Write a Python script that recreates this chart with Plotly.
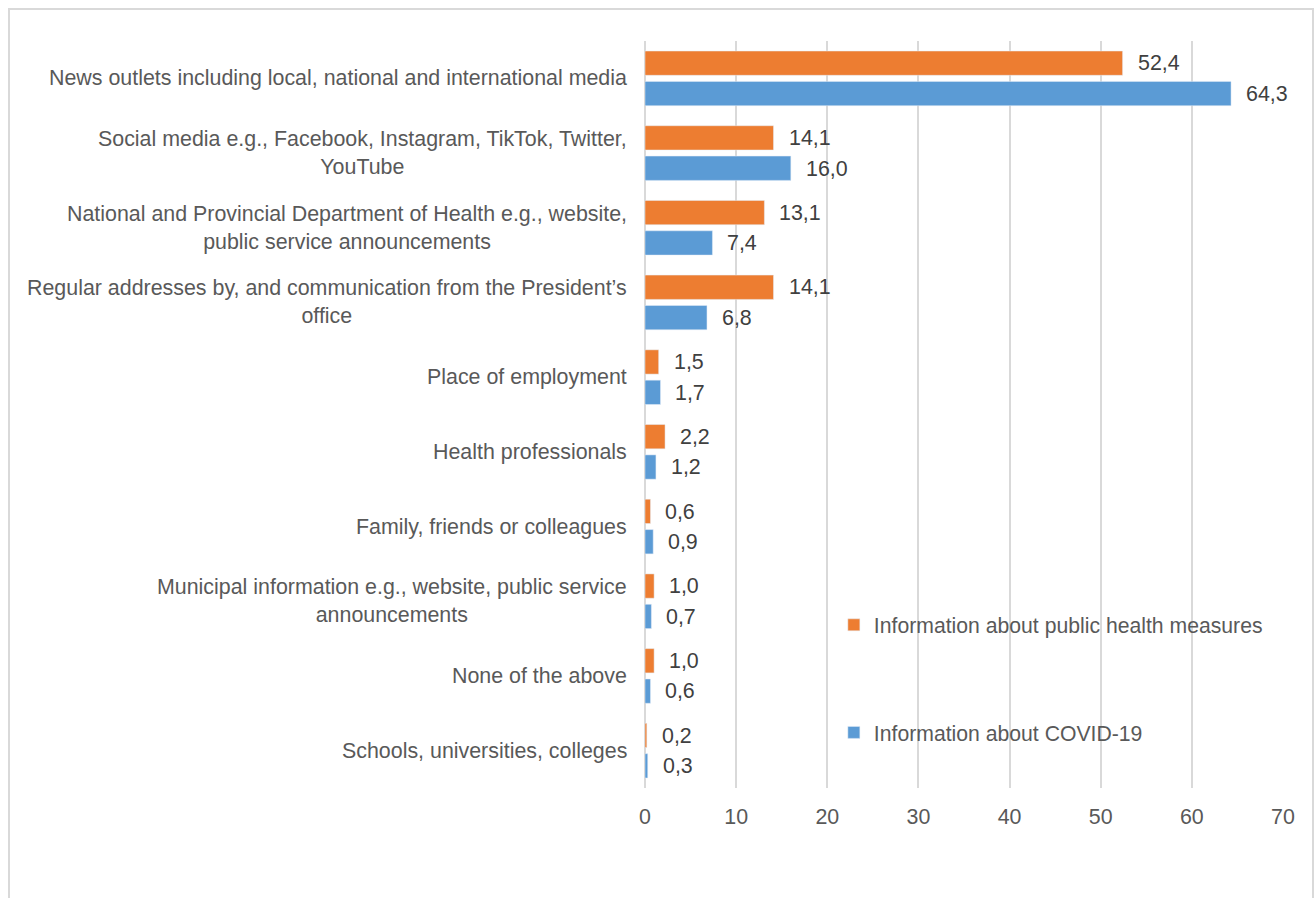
import plotly.graph_objects as go

# Information sources (top to bottom)
categories = [
    "News outlets including local, national and international media",
    "Social media e.g., Facebook, Instagram, TikTok, Twitter,<br>YouTube",
    "National and Provincial Department of Health e.g., website,<br>public service announcements",
    "Regular addresses by, and communication from the President\u2019s<br>office",
    "Place of employment",
    "Health professionals",
    "Family, friends or colleagues",
    "Municipal information e.g., website, public service<br>announcements",
    "None of the above",
    "Schools, universities, colleges",
]
public_health = [52.4, 14.1, 13.1, 14.1, 1.5, 2.2, 0.6, 1.0, 1.0, 0.2]
covid_info = [64.3, 16.0, 7.4, 6.8, 1.7, 1.2, 0.9, 0.7, 0.6, 0.3]
x_ticks = [0, 10, 20, 30, 40, 50, 60, 70]

ORANGE = "#ED7D31"
BLUE = "#5B9BD5"
FONT = "Arial, Liberation Sans, sans-serif"
FS = 21.4

fig = go.Figure()
fig.add_trace(go.Bar(
    y=categories, x=public_health, orientation="h",
    name="Information about public health measures",
    marker=dict(color=ORANGE), legendgroup="a",
))
fig.add_trace(go.Bar(
    y=categories, x=covid_info, orientation="h",
    name="Information about COVID-19",
    marker=dict(color=BLUE), legendgroup="b",
))

annotations = []
# category labels, centred line by line
for c in categories:
    annotations.append(dict(
        x=0, xref="paper", y=c, yref="y", text=c, showarrow=False,
        xanchor="right", yanchor="middle", align="center", xshift=-16,
        font=dict(family=FONT, size=FS, color="#595959"),
    ))
# value labels
for vals, ys in ((public_health, 15), (covid_info, -15.5)):
    for c, v in zip(categories, vals):
        annotations.append(dict(
            x=v, xref="x", y=c, yref="y", text=f"{v:.1f}".replace(".", ","),
            showarrow=False, xanchor="left", yanchor="middle",
            xshift=13, yshift=ys,
            font=dict(family=FONT, size=FS, color="#404040"),
        ))

fig.update_layout(
    width=1316, height=898,
    margin=dict(l=645, r=33, t=41, b=110),
    paper_bgcolor="white", plot_bgcolor="white",
    barmode="group", bargap=0.187, bargroupgap=0.2,
    font=dict(family=FONT, size=FS, color="#595959"),
    showlegend=True,
    legend=dict(
        x=0.296, xanchor="left", y=0.2456, yanchor="top",
        traceorder="grouped", tracegroupgap=77,
        font=dict(family=FONT, size=21.2, color="#595959"),
        bgcolor="rgba(0,0,0,0)", itemwidth=30,
    ),
    annotations=annotations,
    shapes=[dict(
        type="rect", xref="paper", yref="paper",
        x0=(9 - 645) / 638, x1=(1313 - 645) / 638,
        y0=(788 - 910) / 747, y1=(788 - 9) / 747,
        line=dict(color="#D9D9D9", width=2), fillcolor="rgba(0,0,0,0)",
        layer="below",
    )],
)
fig.update_xaxes(
    range=[0, 70], tickvals=x_ticks, showgrid=True,
    gridcolor="#D9D9D9", gridwidth=1.5,
    zeroline=True, zerolinecolor="#D9D9D9", zerolinewidth=1.5,
    showline=False, ticks="outside", ticklen=9, tickcolor="rgba(0,0,0,0)",
    tickfont=dict(family=FONT, size=FS, color="#595959"),
)
fig.update_yaxes(
    autorange="reversed", showticklabels=False, showgrid=False,
    zeroline=False, showline=False,
)

fig.write_html("out.html")
